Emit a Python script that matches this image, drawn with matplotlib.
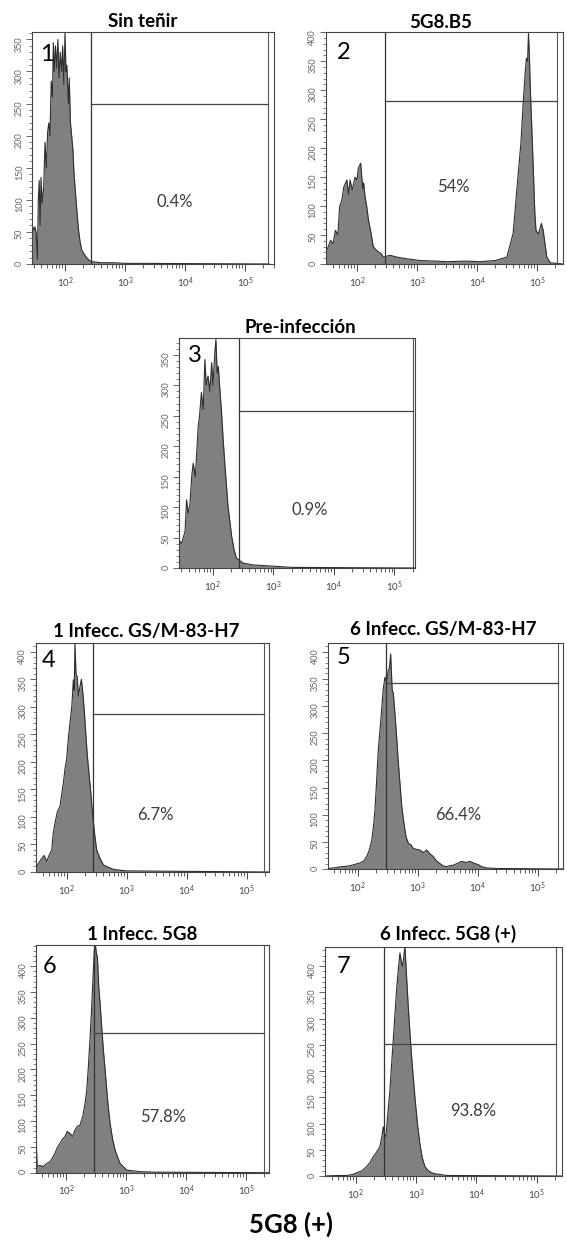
import matplotlib.pyplot as plt
import numpy as np
from matplotlib.ticker import LogLocator, MultipleLocator, NullFormatter

plt.rcParams['font.family'] = ['Lato', 'DejaVu Sans']

W, H = 567, 1241

titles = ['Sin teñir', '5G8.B5', 'Pre-infección', '1 Infecc. GS/M-83-H7',
          '6 Infecc. GS/M-83-H7', '1 Infecc. 5G8', '6 Infecc. 5G8 (+)']
numbers = ['1', '2', '3', '4', '5', '6', '7']
percents = ['0.4%', '54%', '0.9%', '6.7%', '66.4%', '57.8%', '93.8%']
bottom_label = '5G8 (+)'

# histogram readings: log10 fluorescence / events
h1_logx = [1.455, 1.48, 1.50, 1.52, 1.54, 1.555, 1.57, 1.585, 1.60, 1.62, 1.645, 1.667, 1.69,
           1.71, 1.73, 1.75, 1.77, 1.79, 1.806, 1.82, 1.84, 1.861, 1.88, 1.90, 1.92, 1.944,
           1.96, 1.98, 2.0, 2.015, 2.03, 2.056, 2.07, 2.09, 2.11, 2.13, 2.15, 2.17, 2.2,
           2.222, 2.25, 2.278, 2.32, 2.36, 2.40, 2.44, 2.5, 2.6, 2.8, 3.0, 3.2, 5.4]
h1_count = [60, 52, 58, 48, 8, 100, 130, 60, 135, 95, 120, 190, 150, 205, 220, 200, 285, 260,
            345, 300, 340, 305, 350, 290, 330, 300, 340, 280, 362, 300, 310, 250, 290, 220,
            200, 180, 140, 115, 80, 55, 35, 22, 15, 10, 6, 4, 3, 2, 2, 1, 1, 0]

h2_logx = [1.478, 1.52, 1.56, 1.60, 1.64, 1.68, 1.71, 1.745, 1.78, 1.83, 1.86, 1.883, 1.92,
           1.967, 2.0, 2.02, 2.06, 2.095, 2.11, 2.133, 2.16, 2.19, 2.23, 2.27, 2.31, 2.355,
           2.40, 2.44, 2.55, 2.66, 2.77, 2.9, 3.05, 3.3, 3.5, 3.8, 4.05, 4.3, 4.495, 4.6,
           4.67, 4.73, 4.77, 4.80, 4.82, 4.84, 4.855, 4.87, 4.883, 4.93, 4.96, 4.98, 5.02,
           5.07, 5.1, 5.16, 5.22, 5.43]
h2_count = [19, 30, 41, 35, 58, 50, 99, 110, 133, 145, 120, 145, 128, 150, 145, 165, 174, 130,
            140, 116, 100, 76, 55, 30, 25, 21, 18, 12, 15, 12, 10, 8, 6, 5, 4, 5, 4, 6, 12,
            53, 139, 210, 283, 330, 355, 350, 398, 360, 311, 179, 90, 58, 52, 70, 58, 12, 2, 0]

h3_logx = [1.44, 1.48, 1.51, 1.54, 1.565, 1.59, 1.62, 1.65, 1.675, 1.71, 1.757, 1.78, 1.81,
           1.84, 1.868, 1.89, 1.92, 1.95, 1.98, 2.0, 2.03, 2.05, 2.07, 2.09, 2.11, 2.14, 2.17,
           2.2, 2.25, 2.31, 2.35, 2.39, 2.5, 2.67, 3.0, 3.3, 5.34]
h3_count = [46, 40, 50, 60, 112, 90, 104, 150, 172, 150, 232, 250, 288, 260, 342, 300, 315,
            290, 337, 300, 350, 375, 320, 331, 300, 260, 210, 167, 101, 52, 30, 16, 8, 5, 3, 1, 0]

h4_logx = [1.478, 1.52, 1.58, 1.62, 1.66, 1.70, 1.745, 1.77, 1.8, 1.84, 1.883, 1.91, 1.94,
           1.97, 1.994, 2.02, 2.05, 2.08, 2.106, 2.12, 2.133, 2.15, 2.17, 2.19, 2.217, 2.24,
           2.27, 2.29, 2.317, 2.34, 2.372, 2.40, 2.43, 2.46, 2.495, 2.55, 2.606, 2.7, 2.77,
           2.9, 3.0, 5.37]
h4_count = [4, 15, 25, 30, 19, 30, 40, 70, 89, 110, 119, 140, 162, 190, 204, 240, 271, 300,
            349, 330, 416, 360, 355, 320, 337, 350, 319, 290, 246, 210, 173, 140, 101, 70, 40,
            25, 13, 8, 5, 3, 2, 0]

h5_logx = [1.5, 1.6, 1.7, 1.81, 1.9, 2.03, 2.1, 2.145, 2.19, 2.23, 2.26, 2.283, 2.31, 2.339,
           2.37, 2.395, 2.42, 2.45, 2.48, 2.505, 2.525, 2.545, 2.57, 2.59, 2.62, 2.645, 2.67,
           2.7, 2.73, 2.767, 2.8, 2.84, 2.88, 2.922, 2.98, 3.033, 3.09, 3.145, 3.2, 3.255,
           3.31, 3.367, 3.42, 3.478, 3.53, 3.59, 3.65, 3.728, 3.8, 3.867, 3.93, 4.005, 4.07,
           4.145, 4.3, 5.42]
h5_count = [1, 2, 4, 5, 7, 11, 15, 23, 35, 53, 80, 108, 160, 219, 260, 292, 330, 353, 345,
            366, 370, 396, 330, 323, 280, 243, 200, 158, 115, 84, 60, 47, 45, 38, 36, 35, 30,
            35, 28, 23, 15, 10, 6, 4, 6, 7, 10, 14, 12, 14, 11, 8, 4, 2, 1, 0]

h6_logx = [1.5, 1.51, 1.52, 1.56, 1.622, 1.68, 1.733, 1.78, 1.817, 1.86, 1.9, 1.94, 1.983,
           2.02, 2.067, 2.11, 2.15, 2.19, 2.233, 2.28, 2.317, 2.345, 2.372, 2.40, 2.428, 2.45,
           2.472, 2.49, 2.505, 2.522, 2.545, 2.567, 2.595, 2.622, 2.65, 2.678, 2.705, 2.733,
           2.775, 2.817, 2.86, 2.9, 3.01, 3.23, 3.5, 5.38]
h6_count = [76, 40, 12, 14, 12, 18, 21, 30, 38, 50, 57, 65, 70, 80, 76, 70, 83, 90, 92, 110,
            134, 160, 205, 260, 322, 380, 432, 441, 425, 419, 360, 328, 280, 238, 200, 160,
            125, 96, 65, 44, 30, 18, 5, 2, 1, 0]

h7_logx = [1.486, 1.7, 1.846, 1.95, 2.01, 2.1, 2.177, 2.23, 2.287, 2.34, 2.398, 2.43, 2.453,
           2.475, 2.497, 2.53, 2.564, 2.59, 2.619, 2.645, 2.675, 2.70, 2.73, 2.75, 2.774,
           2.795, 2.813, 2.84, 2.868, 2.895, 2.923, 2.95, 2.978, 3.02, 3.06, 3.1, 3.144, 3.2,
           3.28, 3.5, 5.42]
h7_count = [0, 1, 1, 3, 6, 10, 18, 25, 37, 45, 56, 75, 94, 80, 75, 120, 164, 210, 259, 305,
            355, 390, 425, 410, 399, 420, 437, 380, 323, 275, 228, 190, 151, 100, 62, 35, 18,
            10, 5, 1, 0]

hist_x = [h1_logx, h2_logx, h3_logx, h4_logx, h5_logx, h6_logx, h7_logx]
hist_y = [h1_count, h2_count, h3_count, h4_count, h5_count, h6_count, h7_count]

# gate: vertical split (log10), horizontal bar (events), right edge (log10)
gate_x = [2.43, 2.47, 2.43, 2.43, 2.47, 2.47, 2.46]
gate_y = [250, 281, 258, 287, 342, 271, 252]
gate_r = [5.38, 5.33, 5.30, 5.28, 5.33, 5.30, 5.32]

# percent label positions (log10, events)
pct_x = [3.83, 3.60, 3.60, 3.48, 3.67, 3.62, 3.945]
pct_y = [97, 133, 95, 104, 99, 108, 123]

# layout in pixels: left, top, right, bottom
boxes = [(32.3, 31.7, 274, 264), (325.7, 32.3, 563, 264), (179, 337.7, 415, 568),
         (35.7, 643, 269, 872), (328, 643, 563, 869), (36, 945, 269, 1172.7),
         (325, 946.7, 562, 1176)]
xlims = [(1.455, 5.48), (1.478, 5.43), (1.44, 5.34), (1.478, 5.37), (1.5, 5.42),
         (1.5, 5.38), (1.486, 5.42)]
ymaxs = [362, 400, 378, 416, 416, 441, 437]
title_pos = [(143, 27.3), (441, 28.3), (300.5, 333.3), (146, 636.7), (443, 635),
             (142.5, 940), (448.5, 940)]
num_pos = [(40, 61), (337.3, 59.3), (188.3, 361.7), (41.7, 667.3), (337, 664.3),
           (43, 972.7), (336.7, 972.7)]

fig = plt.figure(figsize=(W / 100, H / 100), dpi=100)

for i in range(7):
    l, t, r, b = boxes[i]
    ax = fig.add_axes([l / W, 1 - b / H, (r - l) / W, (b - t) / H])
    x = np.power(10.0, hist_x[i])
    ax.fill_between(x, hist_y[i], color='#808080', lw=0)
    ax.plot(x, hist_y[i], color='#2e2e2e', lw=0.8)

    gx, gr = 10 ** gate_x[i], 10 ** gate_r[i]
    ax.axvline(gx, color='#333333', lw=0.9)
    ax.axvline(gr, color='#555555', lw=0.8)
    ax.plot([gx, gr], [gate_y[i], gate_y[i]], color='#444444', lw=0.9)

    ax.text(10 ** pct_x[i], pct_y[i], percents[i], ha='center', va='center',
            fontsize=12, color='#3c3c3c')

    ax.set_xscale('log')
    ax.set_xlim(10 ** xlims[i][0], 10 ** xlims[i][1])
    ax.set_ylim(0, ymaxs[i])
    ax.set_xticks([1e2, 1e3, 1e4, 1e5])
    ax.xaxis.set_minor_locator(LogLocator(base=10, subs=np.arange(2, 10)))
    ax.xaxis.set_minor_formatter(NullFormatter())
    ax.yaxis.set_major_locator(MultipleLocator(50))
    ax.yaxis.set_minor_locator(MultipleLocator(10))
    ax.tick_params(axis='x', which='major', length=5, width=0.7, labelsize=7,
                   colors='#444444', pad=3)
    ax.tick_params(axis='x', which='minor', length=3, width=0.6, colors='#444444')
    ax.tick_params(axis='y', which='major', length=4, width=0.7, labelsize=6.5,
                   colors='#666666', labelrotation=90, pad=2)
    ax.tick_params(axis='y', which='minor', length=2, width=0.5, colors='#555555')
    for s in ax.spines.values():
        s.set_color('#444444')
        s.set_linewidth(0.8)

    tx, ty = title_pos[i]
    fig.text(tx / W, 1 - ty / H, titles[i], ha='center', va='baseline',
             fontsize=13.5, fontweight='bold', color='black')
    nx, ny = num_pos[i]
    fig.text(nx / W, 1 - ny / H, numbers[i], ha='left', va='baseline',
             fontsize=17, color='black')

fig.text(291 / W, 1 - 1233 / H, bottom_label, ha='center', va='baseline',
         fontsize=18.5, fontweight='bold', color='black')

fig.savefig('out.png', dpi=100)
